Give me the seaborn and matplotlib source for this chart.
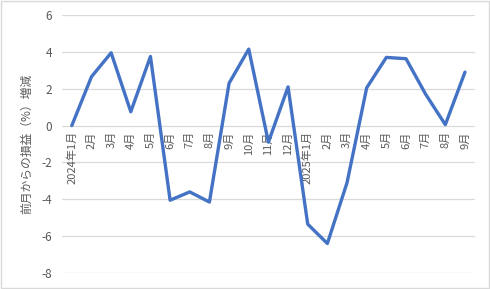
import matplotlib
matplotlib.use("Agg")
import matplotlib.pyplot as plt
import seaborn as sns
import pandas as pd
from matplotlib.patches import Rectangle

months = ["2024年1月", "2月", "3月", "4月", "5月", "6月", "7月", "8月", "9月", "10月",
          "11月", "12月", "2025年1月", "2月", "3月", "4月", "5月", "6月", "7月", "8月", "9月"]
values = [0.0, 2.65, 3.95, 0.75, 3.75, -4.05, -3.6, -4.15, 2.3, 4.15,
          -0.9, 2.1, -5.35, -6.4, -3.1, 2.05, 3.7, 3.63, 1.7, 0.05, 2.9]
yticks = [-8, -6, -4, -2, 0, 2, 4, 6]
ylabel = "前月からの損益（%）増減"

sns.set_theme(style="white")
plt.rcParams["font.family"] = ["Noto Sans CJK JP", "DejaVu Sans"]

df = pd.DataFrame({"idx": range(len(months)), "value": values})

fig = plt.figure(figsize=(4.9, 2.89), dpi=100)
ax = fig.add_axes([0.1265, 0.0554, 0.969 - 0.1265, 0.948 - 0.0554])
ax.spines["bottom"].set_position(("data", 0))
for s in ax.spines.values():
    s.set_visible(False)

for y in yticks:
    ax.axhline(y, color="#D9D9D9", lw=0.9, zorder=0)

sns.lineplot(data=df, x="idx", y="value", ax=ax, color="#4472C4", lw=2.4, zorder=3)

ax.set_xlim(-0.5, len(months) - 0.5)
ax.set_ylim(-8, 6)
ax.set_yticks(yticks)
ax.set_yticklabels([str(t) for t in yticks], color="#595959", fontsize=8.5)
ax.set_xticks(range(len(months)))
ax.set_xticklabels(months, rotation=90, color="#595959", fontsize=8, va="top", ha="center")
ax.tick_params(axis="both", length=0)
ax.tick_params(axis="x", pad=4)
ax.tick_params(axis="y", pad=7)
ax.set_xlabel("")
ax.set_ylabel(ylabel, color="#595959", fontsize=8.5, labelpad=6)

fig.patches.append(Rectangle((0.002, 0.003), 0.996, 0.994, transform=fig.transFigure,
                             fill=False, edgecolor="#D9D9D9", lw=1.0))

fig.savefig("out.png", dpi=100, facecolor="white")
